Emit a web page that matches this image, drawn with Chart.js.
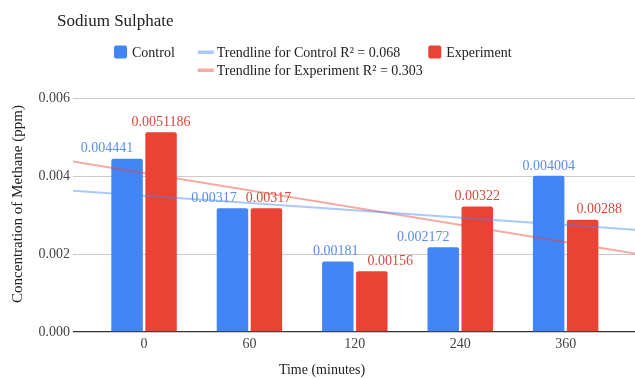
<!DOCTYPE html>
<html>
<head>
<meta charset="utf-8">
<title>Sodium Sulphate</title>
<script src="https://cdn.jsdelivr.net/npm/chart.js@4.4.1/dist/chart.umd.min.js"></script>
<style>
  html, body { margin: 0; padding: 0; background: #ffffff; }
  #wrap { width: 635px; height: 379px; }
</style>
</head>
<body>
<div id="wrap"><canvas id="chart" width="635" height="379"></canvas></div>
<script>
// ---- data ----
const chartTitle = 'Sodium Sulphate';
const categories = ['0', '60', '120', '240', '360'];
const controlValues = [0.004441, 0.00317, 0.00181, 0.002172, 0.004004];
const experimentValues = [0.0051186, 0.00317, 0.00156, 0.00322, 0.00288];
const yTickValues = [0, 0.002, 0.004, 0.006];
const yTickLabels = ['0.000', '0.002', '0.004', '0.006'];
const xAxisTitle = 'Time (minutes)';
const yAxisTitle = 'Concentration of Methane (ppm)';
const seriesNames = ['Control', 'Experiment'];

// ---- look ----
const FONT = '"Liberation Serif", "Times New Roman", serif';
const BLUE = '#4285f4';
const RED = '#ea4335';
const BLUE_LABEL = '#5b8ee6';
const RED_LABEL = '#d8493d';
const BLUE_TREND = 'rgba(66,133,244,0.45)';
const RED_TREND = 'rgba(234,67,53,0.45)';
const X_MIN = -0.674, X_MAX = 4.658;   // visible index range of the category axis

// least-squares line over the category index
function fitLine(values) {
  const n = values.length;
  let sx = 0, sy = 0;
  values.forEach((y, i) => { sx += i; sy += y; });
  const mx = sx / n, my = sy / n;
  let sxx = 0, sxy = 0, syy = 0;
  values.forEach((y, i) => {
    sxx += (i - mx) * (i - mx);
    sxy += (i - mx) * (y - my);
    syy += (y - my) * (y - my);
  });
  const slope = sxy / sxx;
  const intercept = my - slope * mx;
  const r2 = (sxy * sxy) / (sxx * syy);
  return { slope, intercept, r2, at: x => intercept + slope * x };
}

const controlFit = fitLine(controlValues);
const experimentFit = fitLine(experimentValues);
const trendName = (name, fit) => `Trendline for ${name} R\u00B2 = ${fit.r2.toFixed(3)}`;

const toPoints = vals => vals.map((v, i) => ({ x: i, y: v }));
const trendPoints = fit => [X_MIN, X_MAX].map(x => ({ x, y: fit.at(x) }));

// ---- value labels above the columns, nudged sideways to stay clear ----
const valueLabels = {
  id: 'valueLabels',
  afterDatasetsDraw(chart) {
    const ctx = chart.ctx;
    const mA = chart.getDatasetMeta(0), mB = chart.getDatasetMeta(1);
    ctx.save();
    ctx.font = '14px ' + FONT;
    ctx.textBaseline = 'middle';
    ctx.textAlign = 'center';
    const H = 14, BAR_GAP = 12, LABEL_GAP = 9;
    categories.forEach((c, i) => {
      const a = mA.data[i], b = mB.data[i];
      const ta = String(controlValues[i]), tb = String(experimentValues[i]);
      const wa = ctx.measureText(ta).width, wb = ctx.measureText(tb).width;
      let ca = a.x, cb = b.x;
      const ya = a.y - 10, yb = b.y - 10;
      const aRight = a.x + a.width / 2;
      const bLeft = b.x - b.width / 2;
      // keep the left label off the right column
      if (b.y < ya + H && ca + wa / 2 > bLeft - BAR_GAP) ca = bLeft - BAR_GAP - wa / 2;
      // keep the right label off the left column
      if (a.y < yb + H / 2 && cb - wb / 2 < aRight + BAR_GAP) cb = aRight + BAR_GAP + wb / 2;
      // keep the two labels apart
      if (Math.abs(ya - yb) < H) {
        const over = (ca + wa / 2 + LABEL_GAP) - (cb - wb / 2);
        if (over > 0) { ca -= over / 2; cb += over / 2; }
      }
      ctx.fillStyle = BLUE_LABEL;
      ctx.fillText(ta, ca, ya);
      ctx.fillStyle = RED_LABEL;
      ctx.fillText(tb, cb, yb);
    });
    ctx.restore();
  }
};

// ---- title, legend and axis titles ----
const decorations = {
  id: 'decorations',
  afterDraw(chart) {
    const ctx = chart.ctx;
    ctx.save();
    ctx.textBaseline = 'middle';
    ctx.textAlign = 'left';
    ctx.fillStyle = '#222222';
    ctx.font = '17px ' + FONT;
    ctx.fillText(chartTitle, 57, 22);

    ctx.font = '14px ' + FONT;
    const ds = chart.data.datasets;
    const entry = d => ({
      text: d.label,
      kind: d.type === 'line' ? 'line' : 'box',
      color: d.type === 'line' ? d.borderColor : d.backgroundColor
    });
    const boxW = 13, boxGap = 5, lineW = 16, lineGap = 3;
    const gaps = [23, 28];
    const width = e => (e.kind === 'box' ? boxW + boxGap : lineW + lineGap) + ctx.measureText(e.text).width;
    const row1 = [entry(ds[0]), entry(ds[2]), entry(ds[1])];
    const row2 = [entry(ds[3])];
    const drawEntry = (e, x, y) => {
      if (e.kind === 'box') {
        ctx.fillStyle = e.color;
        ctx.beginPath();
        ctx.roundRect(x, y - boxW / 2, boxW, boxW, 2);
        ctx.fill();
        ctx.fillStyle = '#222222';
        ctx.fillText(e.text, x + boxW + boxGap, y + 1);
      } else {
        ctx.fillStyle = e.color;
        ctx.fillRect(x, y - 1.5, lineW, 3.5);
        ctx.fillStyle = '#222222';
        ctx.fillText(e.text, x + lineW + lineGap, y + 1);
      }
    };
    let x = 114;
    const starts = [];
    row1.forEach((e, k) => { starts.push(x); drawEntry(e, x, 52); x += width(e) + (gaps[k] || 0); });
    row2.forEach(e => drawEntry(e, starts[1], 70));

    // horizontal axis title
    ctx.textAlign = 'center';
    ctx.fillStyle = '#222222';
    ctx.fillText(xAxisTitle, 322, 370);

    // vertical axis title
    ctx.font = '15px ' + FONT;
    ctx.translate(18, 204);
    ctx.rotate(-Math.PI / 2);
    ctx.fillText(yAxisTitle, 0, 0);
    ctx.restore();
  }
};

Chart.defaults.font.family = FONT;

new Chart(document.getElementById('chart'), {
  type: 'bar',
  data: {
    datasets: [
      { label: seriesNames[0], data: toPoints(controlValues), backgroundColor: BLUE,
        borderRadius: 2, order: 1, categoryPercentage: 0.645, barPercentage: 0.926 },
      { label: seriesNames[1], data: toPoints(experimentValues), backgroundColor: RED,
        borderRadius: 2, order: 1, categoryPercentage: 0.645, barPercentage: 0.926 },
      { type: 'line', label: trendName(seriesNames[0], controlFit), data: trendPoints(controlFit),
        borderColor: BLUE_TREND, borderWidth: 2, pointRadius: 0, fill: false, order: 0 },
      { type: 'line', label: trendName(seriesNames[1], experimentFit), data: trendPoints(experimentFit),
        borderColor: RED_TREND, borderWidth: 2, pointRadius: 0, fill: false, order: 0 }
    ]
  },
  options: {
    responsive: false,
    animation: false,
    devicePixelRatio: 1,
    layout: { padding: { top: 98, right: 0, bottom: 0, left: 0 } },
    plugins: { legend: { display: false }, tooltip: { enabled: false }, title: { display: false } },
    scales: {
      x: {
        type: 'linear',
        min: X_MIN,
        max: X_MAX,
        offset: false,
        grid: { display: false, offset: false, drawTicks: false },
        border: { display: false },
        ticks: {
          autoSkip: false, maxRotation: 0, padding: 4,
          color: '#444444', font: { size: 14 },
          callback: v => categories[v] ?? ''
        },
        afterBuildTicks: s => { s.ticks = categories.map((c, i) => ({ value: i })); },
        afterFit: s => { s.height = 47; }
      },
      y: {
        type: 'linear',
        min: 0,
        max: 0.006,
        grid: {
          drawTicks: false,
          color: c => (c.tick && c.tick.value === 0 ? '#333333' : '#cccccc'),
          lineWidth: c => (c.tick && c.tick.value === 0 ? 1.3 : 1)
        },
        border: { display: false },
        ticks: {
          padding: 3, color: '#444444', font: { size: 14 },
          callback: (v, i) => yTickLabels[i]
        },
        afterBuildTicks: s => { s.ticks = yTickValues.map(v => ({ value: v })); },
        afterFit: s => { s.width = 73; }
      }
    }
  },
  plugins: [valueLabels, decorations]
});
</script>
</body>
</html>
